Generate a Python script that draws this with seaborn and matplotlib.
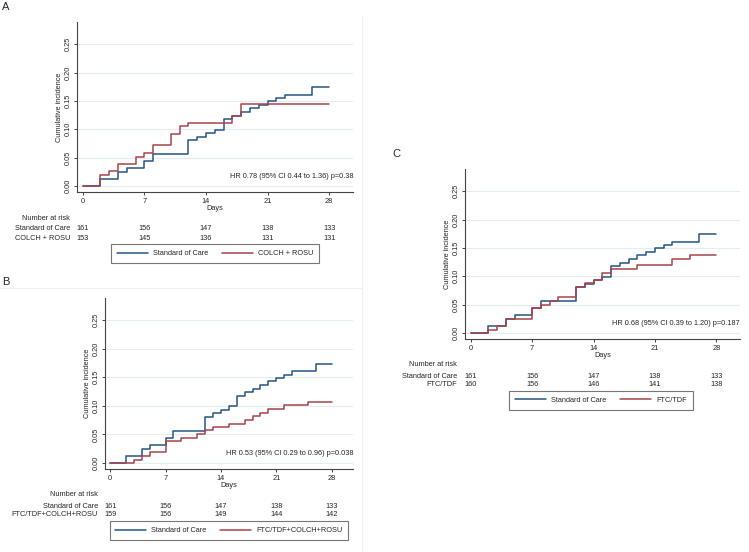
import numpy as np
import pandas as pd
import matplotlib
matplotlib.use("Agg")
import matplotlib.pyplot as plt
import matplotlib.transforms as mtransforms
from matplotlib.lines import Line2D
import seaborn as sns

# datos -----------------------------------------------------------------

days_soc = [0, 2, 4, 5, 7, 8, 12, 13, 14, 15, 16, 17, 18, 19, 20, 21, 22, 23, 26, 28]
ci_soc = [0, 0.012, 0.025, 0.031, 0.044, 0.056, 0.081, 0.087, 0.093, 0.099,
          0.118, 0.124, 0.130, 0.137, 0.143, 0.149, 0.155, 0.161, 0.174, 0.174]

days_colch = [0, 2, 3, 4, 6, 7, 8, 10, 11, 12, 17, 18, 28]
ci_colch = [0, 0.020, 0.026, 0.039, 0.052, 0.059, 0.072, 0.092, 0.105, 0.111, 0.124, 0.144, 0.144]

days_combo = [0, 3, 4, 5, 7, 9, 11, 12, 13, 15, 17, 18, 19, 20, 22, 25, 28]
ci_combo = [0, 0.006, 0.013, 0.019, 0.038, 0.044, 0.050, 0.057, 0.063, 0.069,
            0.076, 0.082, 0.088, 0.094, 0.101, 0.107, 0.107]

days_ftc = [0, 2, 3, 4, 7, 8, 9, 10, 12, 13, 14, 15, 16, 19, 23, 25, 28]
ci_ftc = [0, 0.006, 0.013, 0.025, 0.044, 0.050, 0.056, 0.063, 0.081, 0.088,
          0.094, 0.106, 0.113, 0.119, 0.131, 0.138, 0.138]

risk_days = [0, 7, 14, 21, 28]
risk_soc = [161, 156, 147, 138, 133]
risk_colch = [153, 145, 136, 131, 131]
risk_combo = [159, 156, 149, 144, 142]
risk_ftc = [160, 156, 146, 141, 138]

y_ticks = [0.00, 0.05, 0.10, 0.15, 0.20, 0.25]

lbl_soc = "Standard of Care"
lbl_colch = "COLCH + ROSU"
lbl_combo = "FTC/TDF+COLCH+ROSU"
lbl_ftc = "FTC/TDF"

hr_a = "HR 0.78 (95% CI 0.44 to 1.36) p=0.38"
hr_b = "HR 0.53 (95% CI 0.29 to 0.96) p=0.038"
hr_c = "HR 0.68 (95% CI 0.39 to 1.20) p=0.187"

# estilo ----------------------------------------------------------------

sns.set_style("white")
plt.rcParams['font.family'] = ['Liberation Sans', 'DejaVu Sans']
AZUL = "#255586"
ROJO = "#a8424c"
FS = 5.3
W, H = 749, 552

fig = plt.figure(figsize=(W / 100, H / 100), dpi=100)


def panel(x0, y0, x1, y1, trat_days, trat_ci, trat_lbl, trat_risk, hr, lab_x, leg_c):
    ax = fig.add_axes([x0 / W, 1 - y1 / H, (x1 - x0) / W, (y1 - y0) / H])
    df = pd.concat([
        pd.DataFrame({"Days": days_soc, "ci": ci_soc, "grupo": lbl_soc}),
        pd.DataFrame({"Days": trat_days, "ci": trat_ci, "grupo": trat_lbl}),
    ])
    sns.lineplot(data=df, x="Days", y="ci", hue="grupo", palette=[AZUL, ROJO],
                 drawstyle="steps-post", estimator=None, linewidth=1.1,
                 legend=False, ax=ax)
    ax.set_xlim(-0.65, 30.7)
    ax.set_ylim(-0.0105, 0.289)
    ax.set_xticks(risk_days)
    ax.set_yticks(y_ticks)
    ax.set_yticklabels([f"{t:.2f}" for t in y_ticks])
    ax.grid(axis="y", color="#e3ecef", linewidth=0.8)
    ax.set_axisbelow(True)
    for s in ["top", "right"]:
        ax.spines[s].set_visible(False)
    for s in ["left", "bottom"]:
        ax.spines[s].set_color("#444444")
        ax.spines[s].set_linewidth(0.8)
    ax.tick_params(axis="both", which="both", direction="out", length=2.5, width=0.7,
                   color="#444444", labelsize=FS, pad=1.5, left=True, bottom=True)
    plt.setp(ax.get_yticklabels(), rotation=90, va="center")
    ax.set_xlabel("Days", fontsize=FS, labelpad=0)
    ax.set_ylabel("Cumulative incidence", fontsize=FS, labelpad=1)
    ax.text(1.0, 0.011, hr, transform=ax.get_yaxis_transform(), ha="right", va="bottom", fontsize=FS)

    # tabla de numero en riesgo
    tr = mtransforms.blended_transform_factory(ax.transData, fig.transFigure)
    base = y1 + 26
    fig.text(lab_x / W, 1 - base / H, "Number at risk", ha="right", va="center", fontsize=FS)
    fig.text(lab_x / W, 1 - (base + 11) / H, lbl_soc, ha="right", va="center", fontsize=FS)
    fig.text(lab_x / W, 1 - (base + 20) / H, trat_lbl, ha="right", va="center", fontsize=FS)
    for d, a, b in zip(risk_days, risk_soc, trat_risk):
        ax.text(d, 1 - (base + 11) / H, str(a), transform=tr, ha="center", va="center", fontsize=FS)
        ax.text(d, 1 - (base + 20) / H, str(b), transform=tr, ha="center", va="center", fontsize=FS)

    handles = [Line2D([], [], color=AZUL, linewidth=1.1), Line2D([], [], color=ROJO, linewidth=1.1)]
    leg = ax.legend(handles, [lbl_soc, trat_lbl], ncol=2, loc="center",
                    bbox_to_anchor=(leg_c[0] / W, 1 - leg_c[1] / H), bbox_transform=fig.transFigure,
                    fontsize=FS, handlelength=4.2, handletextpad=0.7, columnspacing=1.9,
                    frameon=True, fancybox=False, borderpad=0.75)
    leg.get_frame().set_edgecolor("#555555")
    leg.get_frame().set_linewidth(0.8)
    return ax


panel(77, 22, 353, 192, days_colch, ci_colch, lbl_colch, risk_colch, hr_a, 70, (215, 253.5))
panel(105, 298, 353, 469, days_combo, ci_combo, lbl_combo, risk_combo, hr_b, 98, (229, 530.5))
panel(465, 169, 740, 339, days_ftc, ci_ftc, lbl_ftc, risk_ftc, hr_c, 457, (601, 400.5))

fig.text(2 / W, 1 - 2 / H, "A", ha="left", va="top", fontsize=8)
fig.text(2 / W, 1 - 277 / H, "B", ha="left", va="top", fontsize=8)
fig.text(392 / W, 1 - 149 / H, "C", ha="left", va="top", fontsize=8)

# bordes tenues de las imagenes originales
fig.add_artist(Line2D([0, 362 / W], [1 - 288 / H, 1 - 288 / H], color="#f0f0f0", linewidth=0.8))
fig.add_artist(Line2D([362 / W, 362 / W], [1 - 15 / H, 0], color="#f0f0f0", linewidth=0.8))

fig.savefig("out.png", dpi=100)
